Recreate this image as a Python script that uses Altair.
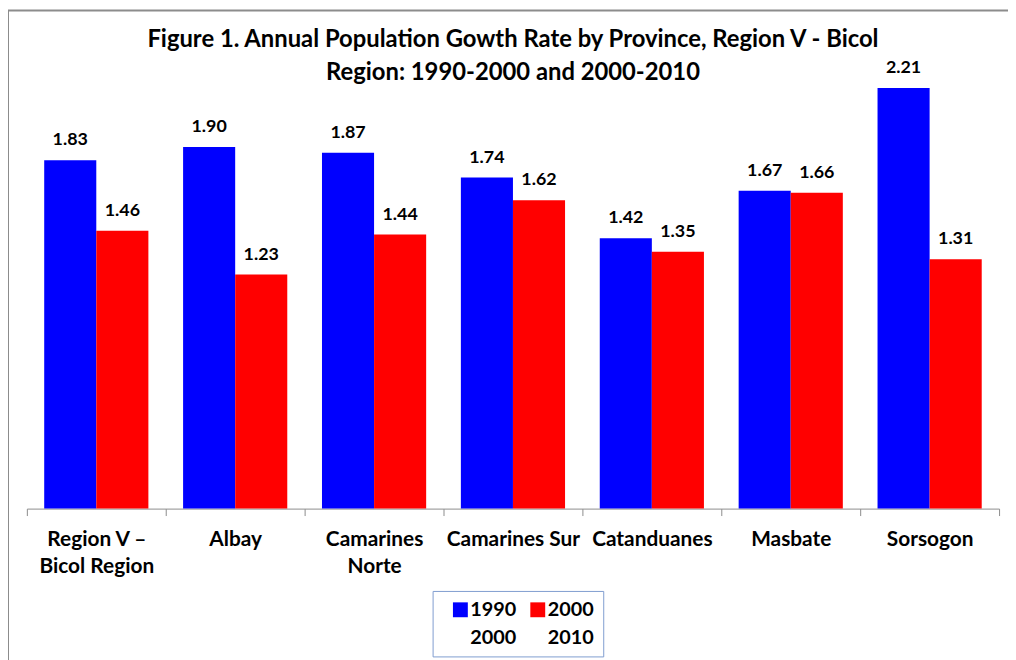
import altair as alt
import pandas as pd

provinces = ["Region V – Bicol Region", "Albay", "Camarines Norte", "Camarines Sur",
             "Catanduanes", "Masbate", "Sorsogon"]
series = ["1990-2000", "2000-2010"]
rate_1990_2000 = [1.83, 1.90, 1.87, 1.74, 1.42, 1.67, 2.21]
rate_2000_2010 = [1.46, 1.23, 1.44, 1.62, 1.35, 1.66, 1.31]
colors = ["#0000FF", "#FF0000"]

rows = []
for i, p in enumerate(provinces):
    rows.append({"province": p, "period": series[0], "rate": rate_1990_2000[i]})
    rows.append({"province": p, "period": series[1], "rate": rate_2000_2010[i]})
df = pd.DataFrame(rows)

FONT = "Lato"

label_expr = ("datum.value == 'Region V – Bicol Region' ? ['Region V –', 'Bicol Region'] : "
              "datum.value == 'Camarines Norte' ? ['Camarines', 'Norte'] : datum.value")

x = alt.X("province:N", sort=provinces, title=None,
          scale=alt.Scale(paddingInner=0, paddingOuter=0),
          axis=alt.Axis(labelAngle=0, labelExpr=label_expr, tickBand="extent",
                        domainColor="#8c8c8c", tickColor="#8c8c8c", tickSize=7,
                        labelFont=FONT, labelFontSize=21, labelFontWeight="bold",
                        labelColor="black", labelPadding=13, labelLineHeight=27,
                        labelBaseline="top"))
xo = alt.XOffset("period:N", sort=series,
                 scale=alt.Scale(paddingOuter=0.333, paddingInner=0))
y = alt.Y("rate:Q", scale=alt.Scale(domain=[0, 2.21], nice=False, zero=True), axis=None)

frame = alt.Chart(df).mark_rect(fill="transparent", stroke="#8c8c8c", strokeWidth=2).encode(
    x=alt.value(-19), x2=alt.value(1100), y=alt.value(-78), y2=alt.value(700)
).transform_filter("datum.province == 'Albay' && datum.period == '1990-2000'")

bars = alt.Chart(df).mark_bar(size=52.5).encode(
    x=x, xOffset=xo, y=y,
    color=alt.Color("period:N", sort=series,
                    scale=alt.Scale(domain=series, range=colors),
                    legend=alt.Legend(title=None, orient="none", legendX=409, legendY=507,
                                      direction="horizontal", columns=2,
                                      labelExpr="split(datum.label, '-')",
                                      labelFont=FONT, labelFontSize=20, labelFontWeight="bold",
                                      labelColor="black",
                                      labelBaseline="middle", labelOffset=0,
                                      symbolType="square", symbolSize=225, symbolStrokeWidth=0,
                                      symbolOffset=9, columnPadding=2,
                                      padding=9, strokeColor="#7F9DCF", fillColor="white"))
)

labels = alt.Chart(df).mark_text(font=FONT, fontSize=18, fontWeight="bold", color="black",
                                 baseline="alphabetic", dy=-15).encode(
    x=x, xOffset=xo, y=y, text=alt.Text("rate:Q", format=".2f")
)

chart = alt.layer(frame, bars, labels).properties(
    width=980, height=424,
    title=alt.TitleParams(
        ["Figure 1.  Annual Population Gowth Rate by Province, Region V - Bicol",
         "Region: 1990-2000 and 2000-2010"],
        font=FONT, fontSize=24, fontWeight="bold", color="black",
        lineHeight=33, anchor="middle", offset=4, dy=80),
    autosize=alt.AutoSizeParams(type="none"),
    padding={"left": 19, "top": 78, "right": 9, "bottom": 150},
).configure(style={"guide-label": {"lineHeight": 28}}).configure_view(stroke="transparent")

chart.save("out.html", embed_options={"renderer": "svg", "actions": False})
